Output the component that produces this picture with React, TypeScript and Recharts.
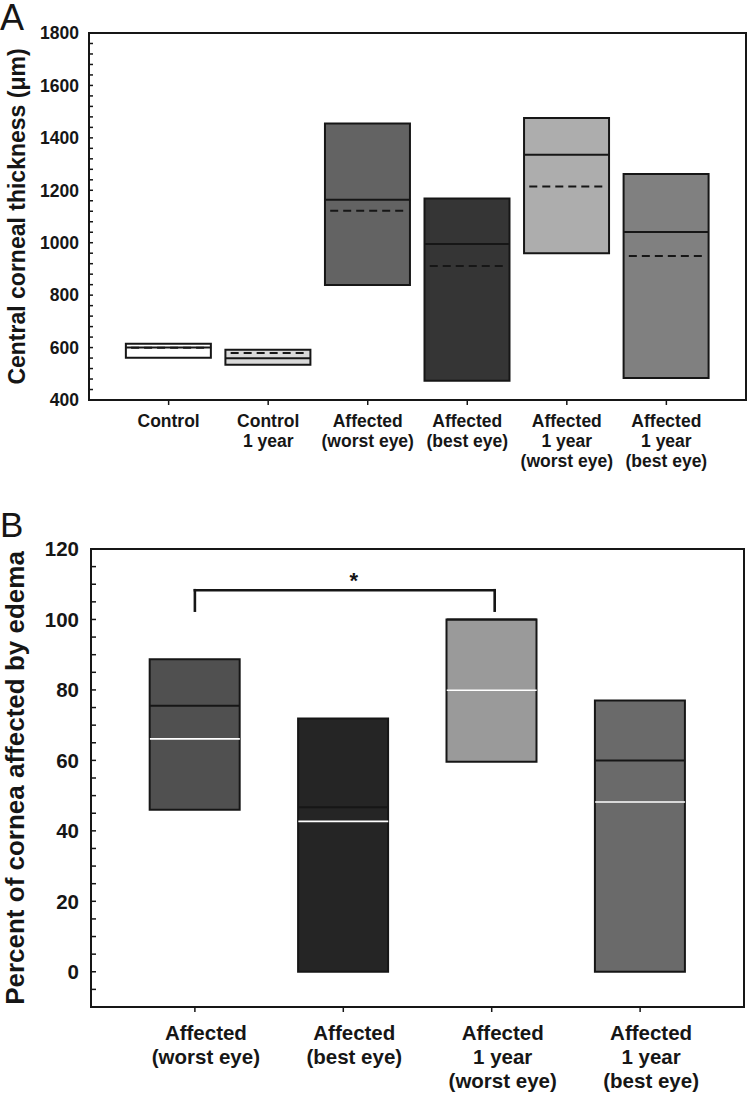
import { ComposedChart, Bar, Cell, XAxis, YAxis, ReferenceLine, ReferenceArea, ReferenceDot } from "recharts";

const FONT = '"Liberation Sans", Arial, Helvetica, sans-serif';
const INK = "#161616";

// Panel A: central corneal thickness (um)
const groupsA = [
  "Control",
  "Control\n1 year",
  "Affected\n(worst eye)",
  "Affected\n(best eye)",
  "Affected\n1 year\n(worst eye)",
  "Affected\n1 year\n(best eye)",
];
const lowA = [561, 534, 839, 473, 960, 484];
const highA = [615, 592, 1455, 1169, 1476, 1262];
const medianA = [600, 559, 1164, 995, 1336, 1041];
const meanA = [599, 579, 1122, 911, 1214, 949];
const yMajorA = [400, 600, 800, 1000, 1200, 1400, 1600, 1800];
const yMinorA = Array.from({ length: 36 }, (_, i) => 400 + i * 40);

// Panel B: percent of cornea affected by edema
const groupsB = [
  "Affected\n(worst eye)",
  "Affected\n(best eye)",
  "Affected\n1 year\n(worst eye)",
  "Affected\n1 year\n(best eye)",
];
const lowB = [46, 0, 59.6, 0];
const highB = [88.7, 71.9, 100, 77];
const medianB = [75.5, 46.7, 100, 60];
const meanB = [66.1, 42.7, 79.9, 48.2];
const yMajorB = [0, 20, 40, 60, 80, 100, 120];
const yMinorB = Array.from({ length: 26 }, (_, i) => -5 + i * 5);
const sigPair = [1, 3.02];
const sigLevels = [102.5, 108.3];
const sigMark = { x: 2.07, y: 112.3 };

const fillsA = ["#ffffff", "#d9d9d9", "#636363", "#353535", "#adadad", "#808080"];
const fillsB = ["#505050", "#252525", "#9a9a9a", "#6a6a6a"];

const rowsA = groupsA.map((g, i) => ({ pos: i + 1, label: g, range: [lowA[i], highA[i]], median: medianA[i], mean: meanA[i] }));
const rowsB = groupsB.map((g, i) => ({ pos: i + 1, label: g, range: [lowB[i], highB[i]], median: medianB[i], mean: meanB[i] }));

const HALF_A = 0.427;
const HALF_B = 0.303;

function YTick(props: any) {
  const { x, y, payload, majors, len, fontSize, gap } = props;
  const v = payload.value;
  return (
    <g>
      <line x1={x} x2={x + len} y1={y} y2={y} stroke={INK} strokeWidth={1.5} />
      {majors.includes(v) && (
        <text x={x - gap} y={y} dy="0.36em" textAnchor="end" fontFamily={FONT} fontWeight="bold" fontSize={fontSize} fill={INK}>
          {v}
        </text>
      )}
    </g>
  );
}

function XTick(props: any) {
  const { x, y, payload, groups, fontSize, first, step, dx } = props;
  const lines: string[] = (groups[payload.value - 1] || "").split("\n");
  return (
    <g>
      {lines.map((t, i) => (
        <text key={i} x={x + dx} y={y + first + i * step} textAnchor="middle" fontFamily={FONT} fontWeight="bold" fontSize={fontSize} fill={INK}>
          {t}
        </text>
      ))}
    </g>
  );
}

function axisTitle(text: string, baseX: number, fallbackY: number, fontSize: number) {
  return (p: any) => {
    const vb = p && p.viewBox;
    const cy = vb && typeof vb.y === "number" ? vb.y + vb.height / 2 : fallbackY;
    return (
      <text transform={`translate(${baseX}, ${cy}) rotate(-90)`} textAnchor="middle" fontFamily={FONT} fontWeight="bold" fontSize={fontSize} fill={INK}>
        {text}
      </text>
    );
  };
}

function PanelA() {
  return (
    <ComposedChart width={747} height={490} data={rowsA} margin={{ top: 33, right: 1, left: 0, bottom: 0 }}>
      <XAxis
        dataKey="pos"
        type="number"
        domain={[0.2, 6.8]}
        ticks={[1, 2, 3, 4, 5, 6]}
        interval={0}
        height={90}
        tickSize={5}
        tickMargin={0}
        axisLine={{ stroke: INK, strokeWidth: 2 }}
        tickLine={{ stroke: INK, strokeWidth: 1.5 }}
        tick={(p: any) => <XTick {...p} groups={groupsA} fontSize={17.5} first={22} step={20} dx={0} />}
      />
      <YAxis
        type="number"
        domain={[400, 1800]}
        ticks={yMinorA}
        interval={0}
        width={89}
        tickSize={0}
        tickMargin={0}
        tickLine={false}
        axisLine={{ stroke: INK, strokeWidth: 2 }}
        tick={(p: any) => <YTick {...p} majors={yMajorA} len={4} fontSize={17.5} gap={10} />}
        label={axisTitle("Central corneal thickness (\u03bcm)", 25, 216, 23)}
      />
      <ReferenceArea x1={0.2} x2={6.8} y1={400} y2={1800} fill="none" stroke={INK} strokeWidth={2} />
      <Bar dataKey="range" barSize={85} stroke={INK} strokeWidth={2} isAnimationActive={false}>
        {rowsA.map((r, i) => (
          <Cell key={r.pos} fill={fillsA[i]} />
        ))}
      </Bar>
      {rowsA.map((r) => (
        <ReferenceLine
          key={"med" + r.pos}
          segment={[{ x: r.pos - HALF_A, y: r.median }, { x: r.pos + HALF_A, y: r.median }]}
          stroke={INK}
          strokeWidth={2}
        />
      ))}
      {rowsA.map((r) => (
        <ReferenceLine
          key={"mean" + r.pos}
          segment={[{ x: r.pos - HALF_A + 0.05, y: r.mean }, { x: r.pos + HALF_A - 0.05, y: r.mean }]}
          stroke={INK}
          strokeWidth={2}
          strokeDasharray="8 5"
        />
      ))}
    </ComposedChart>
  );
}

function PanelB() {
  return (
    <ComposedChart width={747} height={595} data={rowsB} margin={{ top: 49, right: 3, left: 0, bottom: 0 }}>
      <XAxis
        dataKey="pos"
        type="number"
        domain={[0.3, 4.7]}
        ticks={[1, 2, 3, 4]}
        interval={0}
        height={88}
        tickSize={5}
        tickMargin={0}
        axisLine={{ stroke: INK, strokeWidth: 2 }}
        tickLine={{ stroke: INK, strokeWidth: 1.5 }}
        tick={(p: any) => <XTick {...p} groups={groupsB} fontSize={20.5} first={27.5} step={24} dx={11} />}
      />
      <YAxis
        type="number"
        domain={[-10, 120]}
        ticks={yMinorB}
        interval={0}
        width={91}
        tickSize={0}
        tickMargin={0}
        tickLine={false}
        axisLine={{ stroke: INK, strokeWidth: 2 }}
        tick={(p: any) => <YTick {...p} majors={yMajorB} len={5} fontSize={20.5} gap={12} />}
        label={axisTitle("Percent of cornea affected by edema", 24, 277, 26)}
      />
      <ReferenceArea x1={0.3} x2={4.7} y1={-10} y2={120} fill="none" stroke={INK} strokeWidth={2} />
      <Bar dataKey="range" barSize={90} stroke={INK} strokeWidth={2} isAnimationActive={false}>
        {rowsB.map((r, i) => (
          <Cell key={r.pos} fill={fillsB[i]} />
        ))}
      </Bar>
      {rowsB.map((r) => (
        <ReferenceLine
          key={"med" + r.pos}
          segment={[{ x: r.pos - HALF_B, y: r.median }, { x: r.pos + HALF_B, y: r.median }]}
          stroke={INK}
          strokeWidth={2}
        />
      ))}
      {rowsB.map((r) => (
        <ReferenceLine
          key={"mean" + r.pos}
          segment={[{ x: r.pos - HALF_B, y: r.mean }, { x: r.pos + HALF_B, y: r.mean }]}
          stroke="#ffffff"
          strokeWidth={1.6}
        />
      ))}
      <ReferenceLine segment={[{ x: sigPair[0], y: sigLevels[0] }, { x: sigPair[0], y: sigLevels[1] }]} stroke={INK} strokeWidth={2.6} strokeLinecap="square" />
      <ReferenceLine segment={[{ x: sigPair[0], y: sigLevels[1] }, { x: sigPair[1], y: sigLevels[1] }]} stroke={INK} strokeWidth={2.6} strokeLinecap="square" />
      <ReferenceLine segment={[{ x: sigPair[1], y: sigLevels[1] }, { x: sigPair[1], y: sigLevels[0] }]} stroke={INK} strokeWidth={2.6} strokeLinecap="square" />
      <ReferenceDot
        x={sigMark.x}
        y={sigMark.y}
        r={0}
        fill="none"
        stroke="none"
        label={(p: any) => {
          const vb = p.viewBox || {};
          const cx = (vb.x || 0) + (vb.width || 0) / 2;
          const cy = (vb.y || 0) + (vb.height || 0) / 2;
          return (
            <text x={cx} y={cy + 12} textAnchor="middle" fontFamily={FONT} fontWeight="bold" fontSize={22} fill={INK}>
              *
            </text>
          );
        }}
      />
    </ComposedChart>
  );
}

export default function App() {
  return (
    <div style={{ position: "absolute", left: 0, top: 0, width: 747, height: 1095, background: "#fff" }}>
      <div style={{ position: "absolute", left: 0, top: 0 }}>
        <PanelA />
      </div>
      <div style={{ position: "absolute", left: 0, top: 500 }}>
        <PanelB />
      </div>
      <svg width={747} height={1095} style={{ position: "absolute", left: 0, top: 0, pointerEvents: "none" }}>
        <text x={0} y={30} fontFamily={FONT} fontSize={36} fill={INK}>
          A
        </text>
        <text x={0} y={537} fontFamily={FONT} fontSize={35} fill={INK}>
          B
        </text>
      </svg>
    </div>
  );
}
